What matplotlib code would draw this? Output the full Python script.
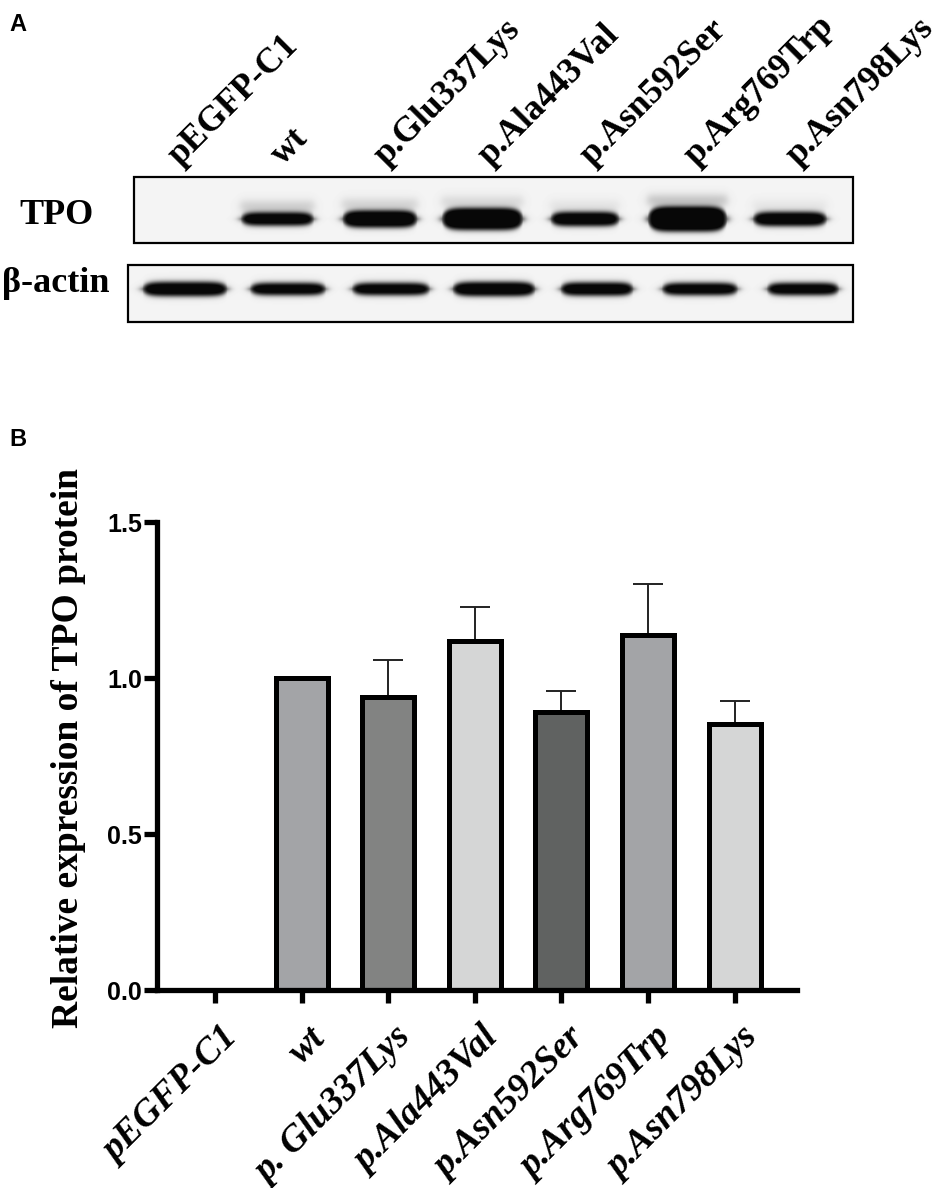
import numpy as np
import matplotlib
matplotlib.use("Agg")
import matplotlib.pyplot as plt
from matplotlib.patches import Rectangle
from matplotlib.transforms import ScaledTranslation

# ---- data ----
lanes_a = ["pEGFP-C1", "wt", "p.Glu337Lys", "p.Ala443Val",
           "p.Asn592Ser", "p.Arg769Trp", "p.Asn798Lys"]
lanes_b = ["pEGFP-C1", "wt", "p. Glu337Lys", "p.Ala443Val",
           "p.Asn592Ser", "p.Arg769Trp", "p.Asn798Lys"]
rel_expr = [0.0, 1.0, 0.938, 1.117, 0.890, 1.138, 0.853]
err_up = [0.0, 0.0, 0.120, 0.109, 0.067, 0.163, 0.073]
bar_colors = ["#a3a4a7", "#a3a4a7", "#828382", "#d5d6d6",
              "#606261", "#a3a4a7", "#d5d6d6"]

# western blot band readings (width, thickness in px, strength 0..1)
tpo_w = [0, 74, 76, 82, 70, 80, 75]
tpo_h = [0, 13, 17, 22, 14, 25, 14]
tpo_s = [0, 1, 1, 1, 1, 1, 1]
tpo_halo = [0, 0.14, 0.12, 0.10, 0.06, 0.18, 0.05]
act_w = [86, 77, 79, 84, 74, 77, 73]
act_h = [14, 12, 12, 14, 13, 12, 12]
act_s = [1, 1, 1, 1, 1, 1, 1]

serif = "Liberation Serif"
sans = "Liberation Sans"

fig = plt.figure(figsize=(9.45, 11.88), dpi=100)

# ---------------- panel A (pixel coordinates) ----------------
axA = fig.add_axes([0, 1 - 340 / 1188, 1, 340 / 1188])
axA.set_xlim(0, 945)
axA.set_ylim(340, 0)
axA.axis("off")


def blot(x0, x1, y0, y1, cx, cy, widths, heights, strengths, halos=None):
    w = int(x1 - x0)
    h = int(y1 - y0)
    yy, xx = np.mgrid[0:h, 0:w] + 0.5
    xx = xx + x0
    yy = yy + y0
    dark = np.zeros((h, w))
    for i in range(len(widths)):
        if widths[i] == 0:
            continue
        # rounded band ends: the band gets thinner towards its ends
        u = np.clip(np.abs(xx - cx[i]) / (widths[i] / 2), 0, 1.5)
        half_h = heights[i] / 2 * np.sqrt(np.clip(1 - u ** 6, 0.05, 1))
        fx = 0.5 * (1 - np.tanh((np.abs(xx - cx[i]) - widths[i] / 2) / 4.5))
        fy = 0.5 * (1 - np.tanh((np.abs(yy - cy) - half_h) / 3.0))
        d = 1.15 * fx * fy * strengths[i]
        if halos is not None:
            top = cy - heights[i] / 2 - 6
            d = d + fx * halos[i] * np.exp(-((yy - top) / 7) ** 2)
        dark = np.maximum(dark, np.clip(d, 0, 1))
    bg = 0.955
    img = bg * (1 - dark) + 0.03 * dark
    axA.imshow(img, cmap="gray", vmin=0, vmax=1, extent=(x0, x1, y1, y0),
               interpolation="bilinear", aspect="auto")
    axA.add_patch(Rectangle((x0, y0), x1 - x0, y1 - y0, fill=False,
                            edgecolor="black", linewidth=1.6))


n = len(lanes_a)
tpo_cx = [175 + 102.5 * i for i in range(n)]
act_cx = [185 + 103 * i for i in range(n)]
blot(134, 853, 177, 243, tpo_cx, 219, tpo_w, tpo_h, tpo_s, tpo_halo)
blot(128, 853, 265, 322, act_cx, 289, act_w, act_h, act_s)

axA.text(57, 216, "TPO", family=serif, fontweight="bold", fontsize=26,
         ha="center", va="center")
axA.text(56, 284, "β-actin", family=serif, fontweight="bold", fontsize=26,
         ha="center", va="center")
for i, lab in enumerate(lanes_a):
    axA.text(act_cx[i] + 1, 172, lab, family=serif, fontweight="bold",
             fontsize=25.5, rotation=45, rotation_mode="anchor",
             ha="left", va="bottom")

fig.text(9 / 945, 1 - 31 / 1188, "A", family=sans, fontweight="bold",
         fontsize=17, ha="left", va="baseline")
fig.text(9 / 945, 1 - 446 / 1188, "B", family=sans, fontweight="bold",
         fontsize=17, ha="left", va="baseline")

# ---------------- panel B ----------------
ax = fig.add_axes([157 / 945, 1 - 990 / 1188, 640 / 945, 468 / 1188])
x = np.arange(n)
ax.errorbar(x, rel_expr, yerr=[np.zeros(n), err_up], fmt="none",
            ecolor="#222222", elinewidth=1.4, capsize=11, capthick=1.4,
            zorder=1)
ax.bar(x, rel_expr, width=0.6, color=bar_colors, edgecolor="black",
       linewidth=3.6, zorder=2)

ax.set_xlim(-0.67, 6.72)
ax.set_ylim(0, 1.5)
for s in ["top", "right"]:
    ax.spines[s].set_visible(False)
for s in ["left", "bottom"]:
    ax.spines[s].set_linewidth(3.8)
    ax.spines[s].set_zorder(3)

ax.set_yticks([0.0, 0.5, 1.0, 1.5])
ax.set_yticklabels(["0.0", "0.5", "1.0", "1.5"], family=sans,
                   fontweight="bold", fontsize=18)
ax.set_xticks(x)
ax.set_xticklabels(lanes_b, family=serif, fontweight="bold",
                   fontstyle="italic", fontsize=27, rotation=45,
                   ha="right", rotation_mode="anchor")
ax.tick_params(axis="both", direction="out", length=9.4, width=3.8)
ax.tick_params(axis="y", pad=1.5)
ax.tick_params(axis="x", pad=4)
for lab in ax.get_xticklabels():
    lab.set_transform(lab.get_transform() +
                      ScaledTranslation(0.06, -0.12, fig.dpi_scale_trans))

fig.text(69 / 945, 1 - 748 / 1188, "Relative expression of TPO protein",
         family=serif, fontweight="bold", fontsize=27, rotation=90,
         ha="center", va="center")

fig.savefig("out.png", dpi=100, facecolor="white")
